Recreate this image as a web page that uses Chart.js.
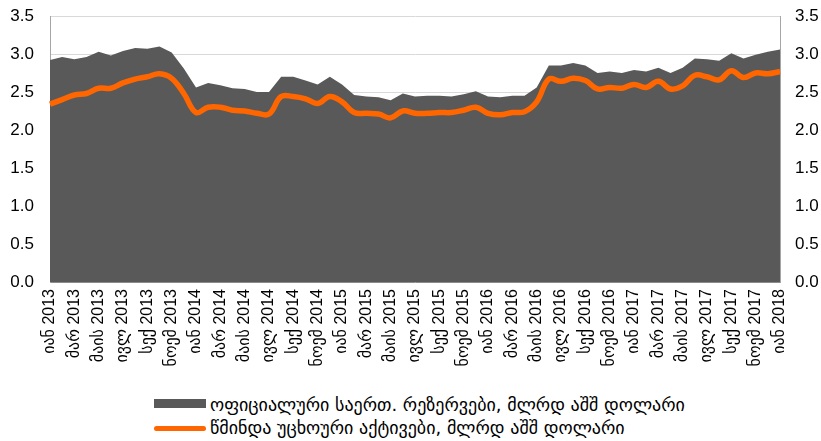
<!DOCTYPE html>
<html>
<head>
<meta charset="utf-8">
<script src="https://cdn.jsdelivr.net/npm/chart.js@4"></script>
<style>
  body { margin: 0; background: #fff; }
  #wrap { position: relative; width: 821px; height: 441px; }
  #chart { position: absolute; left: 0; top: 0; }
  .leg { position: absolute; left: 154px; height: 22px; font: 18px "DejaVu Sans", "Liberation Sans", sans-serif; color: #000; white-space: nowrap; }
  .leg span.mark { position: absolute; left: 0; width: 52px; }
  .leg span.txt { position: absolute; left: 56px; top: 0; line-height: 22px; }
</style>
</head>
<body>
<div id="wrap">
  <canvas id="chart" width="821" height="392"></canvas>
  <div id="legend"></div>
</div>
<script>
// ========== DADOS ==========
const meses = ['იან', 'თებ', 'მარ', 'აპრ', 'მაის', 'ივნ', 'ივლ', 'აგვ', 'სექ', 'ოქტ', 'ნოემ', 'დეკ'];
const anos = [2013, 2014, 2015, 2016, 2017, 2018];

// ოფიციალური საერთ. რეზერვები (Jan 2013 - Jan 2018)
const reservas = [
  2.92, 2.96, 2.93, 2.96, 3.03, 2.98, 3.04, 3.08, 3.07, 3.10, 3.02, 2.81,
  2.56, 2.62, 2.59, 2.55, 2.54, 2.50, 2.50, 2.70, 2.70, 2.65, 2.60, 2.70,
  2.60, 2.46, 2.44, 2.43, 2.39, 2.48, 2.44, 2.45, 2.45, 2.44, 2.47, 2.51,
  2.44, 2.43, 2.45, 2.45, 2.56, 2.85, 2.85, 2.88, 2.85, 2.75, 2.77, 2.75,
  2.79, 2.77, 2.82, 2.75, 2.82, 2.94, 2.93, 2.91, 3.01, 2.94, 2.99, 3.03,
  3.06
];

// წმინდა უცხოური აქტივები
const ativos = [
  2.34, 2.40, 2.46, 2.48, 2.55, 2.55, 2.62, 2.67, 2.70, 2.74, 2.68, 2.48,
  2.23, 2.30, 2.30, 2.26, 2.25, 2.22, 2.21, 2.44, 2.44, 2.41, 2.35, 2.44,
  2.37, 2.23, 2.22, 2.21, 2.16, 2.25, 2.22, 2.22, 2.23, 2.23, 2.26, 2.30,
  2.22, 2.20, 2.23, 2.24, 2.37, 2.67, 2.64, 2.68, 2.65, 2.54, 2.56, 2.55,
  2.60, 2.56, 2.64, 2.54, 2.58, 2.72, 2.70, 2.66, 2.78, 2.69, 2.75, 2.74,
  2.77
];

const legendaReservas = 'ოფიციალური საერთ. რეზერვები, მლრდ აშშ დოლარი';
const legendaAtivos = 'წმინდა უცხოური აქტივები, მლრდ აშშ დოლარი';

const yTicks = [0, 0.5, 1, 1.5, 2, 2.5, 3, 3.5];

// rótulos mensais
const rotulos = [];
for (let i = 0; i < reservas.length; i++) {
  rotulos.push(meses[i % 12] + ' ' + anos[Math.floor(i / 12)]);
}

const fonte = '"Liberation Sans", "DejaVu Sans", Arial, sans-serif';

// ========== GRÁFICO ==========
const ctx = document.getElementById('chart').getContext('2d');
new Chart(ctx, {
  type: 'line',
  data: {
    labels: rotulos,
    datasets: [
      {
        label: legendaAtivos,
        data: ativos,
        borderColor: '#ff6600',
        borderWidth: 5.5,
        pointRadius: 0,
        tension: 0.4,
        fill: false,
        order: 1
      },
      {
        label: legendaReservas,
        data: reservas,
        borderWidth: 0,
        borderColor: '#595959',
        backgroundColor: '#595959',
        pointRadius: 0,
        tension: 0,
        fill: 'origin',
        order: 2
      }
    ]
  },
  options: {
    responsive: false,
    animation: false,
    layout: { padding: { top: 16, bottom: 0, left: 0, right: 0 } },
    plugins: { legend: { display: false }, tooltip: { enabled: false } },
    scales: {
      x: {
        offset: false,
        grid: { display: false, drawTicks: false },
        border: { color: '#8c8c8c', width: 1 },
        ticks: {
          autoSkip: false,
          minRotation: 90,
          maxRotation: 90,
          padding: 7,
          color: '#000',
          font: { family: fonte, size: 16 },
          callback: function (v, i) { return i % 2 === 0 ? rotulos[i] : ''; }
        },
        afterFit: function (s) { s.height = 110; s.paddingLeft = 0; s.paddingRight = 0; }
      },
      y: {
        position: 'left',
        min: 0, max: 3.5,
        afterBuildTicks: function (s) { s.ticks = yTicks.map(v => ({ value: v })); },
        grid: { color: '#d9d9d9', lineWidth: 1, drawTicks: false },
        border: { color: '#a6a6a6', width: 1 },
        ticks: {
          padding: 16,
          color: '#000',
          font: { family: fonte, size: 17, lineHeight: 1 },
          callback: v => v.toFixed(1)
        },
        afterFit: function (s) { s.width = 50; s.paddingTop = 0; s.paddingBottom = 0; }
      },
      y2: {
        position: 'right',
        min: 0, max: 3.5,
        afterBuildTicks: function (s) { s.ticks = yTicks.map(v => ({ value: v })); },
        grid: { display: false, drawTicks: false },
        border: { color: '#a6a6a6', width: 1 },
        ticks: {
          padding: 15,
          color: '#000',
          font: { family: fonte, size: 17, lineHeight: 1 },
          callback: v => v.toFixed(1)
        },
        afterFit: function (s) { s.width = 41; s.paddingTop = 0; s.paddingBottom = 0; }
      }
    }
  }
});

// ========== LEGENDA ==========
const legenda = document.getElementById('legend');
legenda.innerHTML =
  '<div class="leg" style="top:394px"><span class="mark" style="top:5px;height:9px;background:#595959"></span>' +
  '<span class="txt">' + legendaReservas + '</span></div>' +
  '<div class="leg" style="top:417px"><span class="mark" style="top:9px;height:5px;border-radius:3px;background:#ff6600"></span>' +
  '<span class="txt">' + legendaAtivos + '</span></div>';
</script>
</body>
</html>
